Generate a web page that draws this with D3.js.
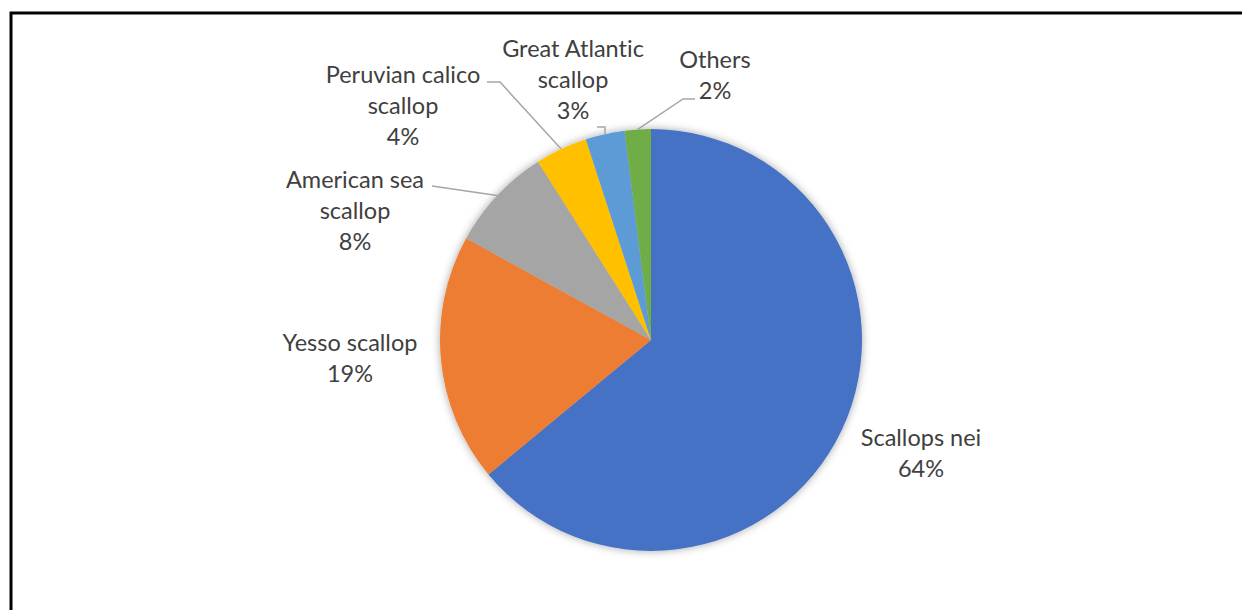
<!DOCTYPE html>
<html>
<head>
<meta charset="utf-8">
<script src="https://cdn.jsdelivr.net/npm/d3@7"></script>
<style>
  html, body { margin: 0; padding: 0; background: #fff; }
  svg { display: block; }
  text { font-family: Lato, "Open Sans", sans-serif; fill: #404040; font-variant-ligatures: none; font-feature-settings: "liga" 0, "clig" 0; }
</style>
</head>
<body>
<svg id="chart" width="1242" height="610"></svg>
<script>
// Species shares of world scallop production (%)
const species = ["Scallops nei", "Yesso scallop", "American sea scallop", "Peruvian calico scallop", "Great Atlantic scallop", "Others"];
const shares = [64, 19, 8, 4, 3, 2];
const labelLines = [
  ["Scallops nei"],
  ["Yesso scallop"],
  ["American sea", "scallop"],
  ["Peruvian calico", "scallop"],
  ["Great Atlantic", "scallop"],
  ["Others"]
];
const colors = ["#4472C4", "#ED7D31", "#A5A5A5", "#FFC000", "#5B9BD5", "#70AD47"];

const svg = d3.select("#chart");
const cx = 651, cy = 340, r = 211;

// Chart frame
svg.append("rect")
  .attr("x", 11).attr("y", 13)
  .attr("width", 1240).attr("height", 640)
  .attr("fill", "none").attr("stroke", "#000").attr("stroke-width", 3);

// Soft shadow behind the pie
const defs = svg.append("defs");
const f = defs.append("filter").attr("id", "pieShadow")
  .attr("x", "-20%").attr("y", "-20%").attr("width", "140%").attr("height", "140%");
f.append("feDropShadow").attr("dx", 0).attr("dy", 0)
  .attr("stdDeviation", 4).attr("flood-color", "#000").attr("flood-opacity", 0.35);

const pie = d3.pie().sort(null).value(d => d)(shares);
const arc = d3.arc().innerRadius(0).outerRadius(r);

const g = svg.append("g").attr("transform", `translate(${cx},${cy})`);
g.append("g").attr("filter", "url(#pieShadow)")
  .selectAll("path").data(pie).join("path")
  .attr("d", arc)
  .attr("fill", (d, i) => colors[i]);

// Label placement (centre x, first-line baseline y)
const lineH = 31;
const labelPos = [
  { x: 921, y: 446 },
  { x: 350, y: 351 },
  { x: 355, y: 188 },
  { x: 403, y: 83 },
  { x: 573, y: 57 },
  { x: 715, y: 68 }
];
// Leader: start point near the label and an elbow before reaching the pie edge
const leaders = [
  null,
  null,
  { start: [432, 186], elbow: [432, 186] },
  { start: [487, 82], elbow: [500, 82] },
  { start: [597, 127], elbow: [605, 127] },
  { start: [695, 99], elbow: [683, 99] }
];

const edge = d3.arc().innerRadius(r).outerRadius(r);
leaders.forEach((L, i) => {
  if (!L) return;
  const c = edge.centroid(pie[i]);
  const end = [cx + c[0], cy + c[1]];
  svg.append("path")
    .attr("d", d3.line()([L.start, L.elbow, end]))
    .attr("fill", "none").attr("stroke", "#A6A6A6").attr("stroke-width", 1.5);
});

labelLines.forEach((lines, i) => {
  const p = labelPos[i];
  const t = svg.append("text")
    .attr("text-anchor", "middle")
    .attr("font-size", 23.5);
  lines.concat([shares[i] + "%"]).forEach((s, k) => {
    t.append("tspan").attr("x", p.x).attr("y", p.y + k * lineH).text(s);
  });
});
</script>
</body>
</html>
